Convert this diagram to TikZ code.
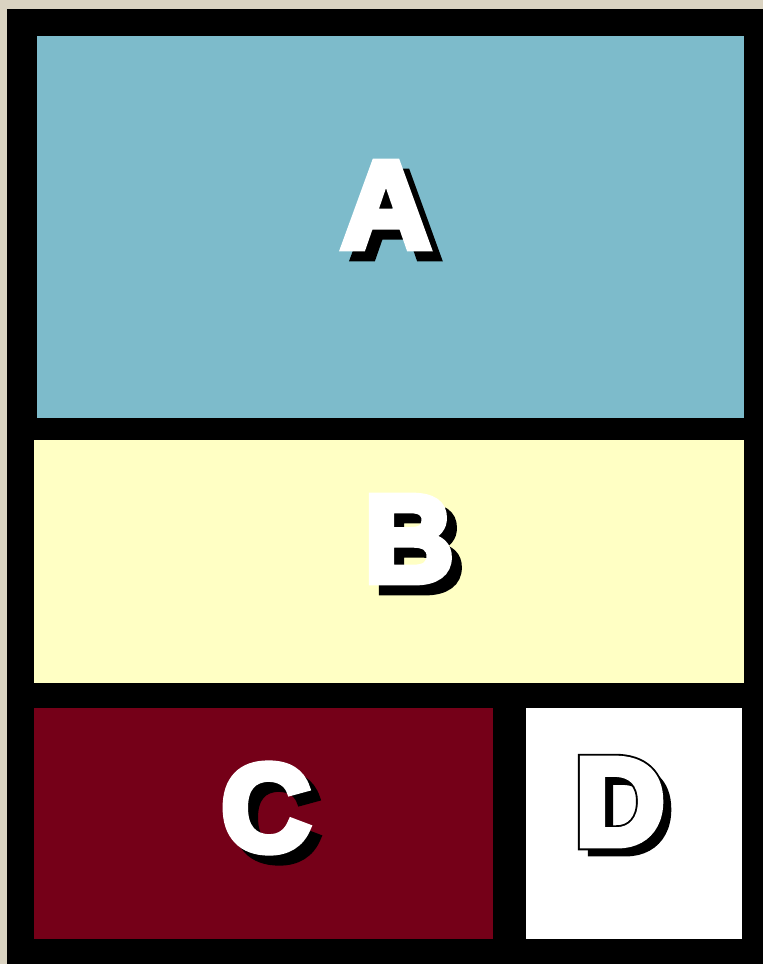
\documentclass[tikz,border=0pt]{standalone}
\usepackage{fontspec}
\setmainfont{Liberation Sans}
\newfontfamily\heavyfont{Liberation Sans Bold}[FakeBold=6]
\newfontfamily\outlinefont{Liberation Sans Bold}[FakeBold=9]
\definecolor{beige}{RGB}{218,211,193}
\definecolor{boxA}{RGB}{125,187,203}
\definecolor{boxB}{RGB}{255,255,196}
\definecolor{boxC}{RGB}{117,0,24}
\tikzset{
  letter/.style={inner sep=0pt, anchor=center, font=\fontsize{124}{126}\heavyfont},
  shadowtxt/.style={letter, text=black},
  fronttxt/.style={letter, text=white},
  outlinetxt/.style={inner sep=0pt, anchor=center, font=\fontsize{124}{126}\outlinefont, text=black}
}
\begin{document}
\begin{tikzpicture}[x=1pt,y=-1pt]
\useasboundingbox (0,0) rectangle (763,964);
\fill[beige] (0,0) rectangle (763,964);
\fill[black] (7,9) rectangle (763,964);
\fill[boxA] (37,36) rectangle (744,418);
\fill[boxB] (34,440) rectangle (744,683);
\fill[boxC] (34,708) rectangle (493,939);
\fill[white] (526,708) rectangle (742,939);
% A
\node[shadowtxt] (As) at (396,215) {A};
\node[fronttxt] (A) at (386,205) {A};
% B
\node[shadowtxt] (Bs) at (419,549) {B};
\node[fronttxt] (B) at (409,539) {B};
% C
\node[shadowtxt] (Cs) at (276,818) {C};
\node[fronttxt] (C) at (266,808) {C};
% D
\node[shadowtxt] (Ds) at (628,810) {D};
\node[outlinetxt] (Do) at (620,802) {D};
\node[fronttxt] (D) at (620,802) {D};
\end{tikzpicture}
\end{document}
